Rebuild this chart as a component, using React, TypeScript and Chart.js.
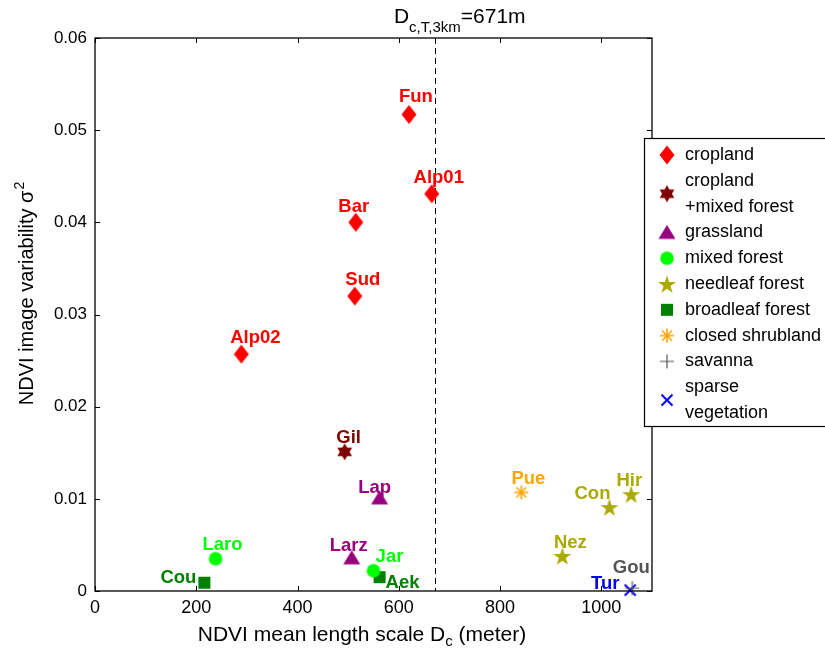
import React, { useEffect, useRef } from 'react';
import { Chart, registerables } from 'chart.js';
Chart.register(...registerables);

// ---- data ----
const xTickValues = [0, 200, 400, 600, 800, 1000];
const yTickValues = [0, 0.01, 0.02, 0.03, 0.04, 0.05, 0.06];
const thresholdDc = 671;

const croplandSites = ['Fun', 'Alp01', 'Bar', 'Sud', 'Alp02'];
const croplandX = [620, 665, 515, 513, 289];
const croplandY = [0.0517, 0.0431, 0.0400, 0.0320, 0.0257];

const cropMixedSites = ['Gil'];
const cropMixedX = [493];
const cropMixedY = [0.0151];

const grasslandSites = ['Lap', 'Larz'];
const grasslandX = [562, 507];
const grasslandY = [0.0101, 0.0036];

const mixedForestSites = ['Jar', 'Laro'];
const mixedForestX = [550, 238];
const mixedForestY = [0.0022, 0.0035];

const needleleafSites = ['Con', 'Hir', 'Nez'];
const needleleafX = [1016, 1059, 923];
const needleleafY = [0.0091, 0.0105, 0.0038];

const broadleafSites = ['Aek', 'Cou'];
const broadleafX = [562, 216];
const broadleafY = [0.0015, 0.0009];

const shrublandSites = ['Pue'];
const shrublandX = [842];
const shrublandY = [0.0107];

const savannaSites = ['Gou'];
const savannaX = [1061];
const savannaY = [0.0003];

const sparseSites = ['Tur'];
const sparseX = [1057];
const sparseY = [0.0001];

const legendLabels = [
  ['cropland'],
  ['cropland', '+mixed forest'],
  ['grassland'],
  ['mixed forest'],
  ['needleaf forest'],
  ['broadleaf forest'],
  ['closed shrubland'],
  ['savanna'],
  ['sparse', 'vegetation'],
];

// ---- styles ----
const classStyles = [
  { kind: 'diamond', color: '#FF0000' },
  { kind: 'hexagram', color: '#800000' },
  { kind: 'triangle', color: '#990080' },
  { kind: 'circle', color: '#00FF00' },
  { kind: 'star', color: '#AAAA00' },
  { kind: 'square', color: '#008000' },
  { kind: 'asterisk', color: '#FFA500' },
  { kind: 'plus', color: '#555555' },
  { kind: 'x', color: '#0000FF' },
];

const labelOffsets: Record<string, [number, number]> = {
  Fun: [7, -18], Alp01: [7, -16], Bar: [-2, -15], Sud: [8, -16], Alp02: [14, -16],
  Gil: [4, -14], Lap: [-5, -10], Larz: [-3, -12], Jar: [16, -14], Aek: [23, 6],
  Laro: [7, -14], Cou: [-26, -5], Pue: [7, -13], Con: [-17, -13], Hir: [-2, -13],
  Nez: [8, -13], Gou: [-1, -20], Tur: [-25, -6],
};
const labelColorOverride: Record<string, string> = { Gou: '#555555' };

const FONT = '"Liberation Sans", Arial, Helvetica, sans-serif';

function makeMarker(kind: string, color: string): HTMLCanvasElement {
  const S = 24;
  const cv = document.createElement('canvas');
  cv.width = S; cv.height = S;
  const g = cv.getContext('2d')!;
  const c = S / 2;
  g.fillStyle = color; g.strokeStyle = color;
  g.beginPath();
  if (kind === 'diamond') {
    g.moveTo(c, c - 9.5); g.lineTo(c + 7.5, c); g.lineTo(c, c + 9.5); g.lineTo(c - 7.5, c); g.closePath(); g.fill();
  } else if (kind === 'hexagram') {
    const R = 8.5;
    for (const start of [-90, 90]) {
      g.beginPath();
      for (let k = 0; k < 3; k++) {
        const a = ((start + k * 120) * Math.PI) / 180;
        const px = c + R * Math.cos(a), py = c + R * Math.sin(a);
        if (k === 0) g.moveTo(px, py); else g.lineTo(px, py);
      }
      g.closePath(); g.fill();
    }
  } else if (kind === 'triangle') {
    g.moveTo(c, c - 7.5); g.lineTo(c + 8.5, c + 6.5); g.lineTo(c - 8.5, c + 6.5); g.closePath(); g.fill();
  } else if (kind === 'circle') {
    g.arc(c, c, 6.8, 0, Math.PI * 2); g.fill();
  } else if (kind === 'star') {
    const R = 9.5, r = R * 0.382;
    for (let k = 0; k < 10; k++) {
      const a = ((-90 + k * 36) * Math.PI) / 180;
      const rr = k % 2 === 0 ? R : r;
      const px = c + rr * Math.cos(a), py = c + 1 + rr * Math.sin(a);
      if (k === 0) g.moveTo(px, py); else g.lineTo(px, py);
    }
    g.closePath(); g.fill();
  } else if (kind === 'square') {
    g.rect(c - 6, c - 6, 12, 12); g.fill();
  } else if (kind === 'asterisk') {
    g.lineWidth = 1.6;
    for (let k = 0; k < 4; k++) {
      const a = (k * 45 * Math.PI) / 180;
      g.moveTo(c - 7 * Math.cos(a), c - 7 * Math.sin(a));
      g.lineTo(c + 7 * Math.cos(a), c + 7 * Math.sin(a));
    }
    g.stroke();
  } else if (kind === 'plus') {
    g.lineWidth = 1.2;
    g.moveTo(c - 7, c); g.lineTo(c + 7, c); g.moveTo(c, c - 7); g.lineTo(c, c + 7); g.stroke();
  } else if (kind === 'x') {
    g.lineWidth = 2;
    g.moveTo(c - 5.5, c - 5.5); g.lineTo(c + 5.5, c + 5.5); g.moveTo(c + 5.5, c - 5.5); g.lineTo(c - 5.5, c + 5.5); g.stroke();
  }
  return cv;
}

export default function App() {
  const ref = useRef<HTMLCanvasElement | null>(null);

  useEffect(() => {
    const canvas = ref.current!;
    const groups = [
      [croplandSites, croplandX, croplandY],
      [cropMixedSites, cropMixedX, cropMixedY],
      [grasslandSites, grasslandX, grasslandY],
      [mixedForestSites, mixedForestX, mixedForestY],
      [needleleafSites, needleleafX, needleleafY],
      [broadleafSites, broadleafX, broadleafY],
      [shrublandSites, shrublandX, shrublandY],
      [savannaSites, savannaX, savannaY],
      [sparseSites, sparseX, sparseY],
    ] as [string[], number[], number[]][];
    const markers = classStyles.map((s) => makeMarker(s.kind, s.color));

    const datasets = groups.map(([sites, xs, ys], i) => ({
      label: legendLabels[i].join(' '),
      data: xs.map((x, j) => ({ x, y: ys[j] })),
      sites,
      pointStyle: markers[i] as any,
      pointRadius: 8,
      pointHoverRadius: 8,
      backgroundColor: classStyles[i].color,
      borderColor: classStyles[i].color,
      showLine: false,
      clip: false as any,
    }));

    const decorations = {
      id: 'decorations',
      beforeDatasetsDraw(chart: any) {
        const { ctx, chartArea } = chart;
        const xs = chart.scales.x;
        const px = Math.round(xs.getPixelForValue(thresholdDc)) + 0.5;
        ctx.save();
        ctx.strokeStyle = '#000';
        ctx.lineWidth = 1;
        ctx.setLineDash([6, 4]);
        ctx.beginPath();
        ctx.moveTo(px, chartArea.top);
        ctx.lineTo(px, chartArea.bottom);
        ctx.stroke();
        ctx.restore();
      },
      afterDatasetsDraw(chart: any) {
        const { ctx } = chart;
        ctx.save();
        ctx.font = `bold 18.5px ${FONT}`;
        ctx.textAlign = 'center';
        ctx.textBaseline = 'middle';
        chart.data.datasets.forEach((ds: any, i: number) => {
          const meta = chart.getDatasetMeta(i);
          meta.data.forEach((el: any, j: number) => {
            const name = ds.sites[j];
            const [dx, dy] = labelOffsets[name] || [0, -14];
            ctx.fillStyle = labelColorOverride[name] || classStyles[i].color;
            ctx.fillText(name, el.x + dx, el.y + dy);
          });
        });
        ctx.restore();
      },
      afterDraw(chart: any) {
        const { ctx, chartArea } = chart;
        const { left, right, top, bottom } = chartArea;
        const xs = chart.scales.x, ys = chart.scales.y;
        ctx.save();
        ctx.strokeStyle = '#000';
        ctx.lineWidth = 1.3;
        ctx.strokeRect(left, top, right - left, bottom - top);
        ctx.lineWidth = 1;
        ctx.beginPath();
        xTickValues.forEach((v) => {
          const p = Math.round(xs.getPixelForValue(v)) + 0.5;
          ctx.moveTo(p, bottom); ctx.lineTo(p, bottom - 5);
          ctx.moveTo(p, top); ctx.lineTo(p, top + 5);
        });
        yTickValues.forEach((v) => {
          const p = Math.round(ys.getPixelForValue(v)) + 0.5;
          ctx.moveTo(left, p); ctx.lineTo(left + 5, p);
          ctx.moveTo(right, p); ctx.lineTo(right - 5, p);
        });
        ctx.stroke();

        // x title
        ctx.fillStyle = '#000';
        ctx.textBaseline = 'alphabetic';
        ctx.textAlign = 'left';
        const xf = `21px ${FONT}`, xsf = `15px ${FONT}`;
        const p1 = 'NDVI mean length scale D', p2 = 'c', p3 = ' (meter)';
        ctx.font = xf; const w1 = ctx.measureText(p1).width; const w3 = ctx.measureText(p3).width;
        ctx.font = xsf; const w2 = ctx.measureText(p2).width;
        const x0 = 362 - (w1 + w2 + w3) / 2;
        const by = 641;
        ctx.font = xf; ctx.fillText(p1, x0, by);
        ctx.font = xsf; ctx.fillText(p2, x0 + w1, by + 5);
        ctx.font = xf; ctx.fillText(p3, x0 + w1 + w2, by);

        // y title
        const tf = `20px ${FONT}`, sf = `14px ${FONT}`;
        ctx.save();
        ctx.translate(33, 294);
        ctx.rotate(-Math.PI / 2);
        const q1 = 'NDVI image variability σ', q2 = '2';
        ctx.font = tf; const v1 = ctx.measureText(q1).width;
        ctx.font = sf; const v2 = ctx.measureText(q2).width;
        const s0 = -(v1 + v2) / 2;
        ctx.font = tf; ctx.fillText(q1, s0, 0);
        ctx.font = sf; ctx.fillText(q2, s0 + v1 + 1, -9);
        ctx.restore();

        // top annotation
        const af = `21px ${FONT}`, asf = `15px ${FONT}`;
        const tpx = xs.getPixelForValue(thresholdDc);
        const a1 = 'D', a2 = 'c,T,3km', a3 = '=671m';
        ctx.font = af; const aw1 = ctx.measureText(a1).width; const aw3 = ctx.measureText(a3).width;
        ctx.font = asf; const aw2 = ctx.measureText(a2).width;
        const ax = tpx + 25 - (aw1 + aw2 + aw3) / 2;
        ctx.font = af; ctx.fillText(a1, ax, 23);
        ctx.font = asf; ctx.fillText(a2, ax + aw1, 32);
        ctx.font = af; ctx.fillText(a3, ax + aw1 + aw2, 23);

        // legend
        const lx = 644, ly = 138, lw = 200, lh = 288;
        ctx.fillStyle = '#fff';
        ctx.fillRect(lx, ly, lw, lh);
        ctx.strokeStyle = '#000';
        ctx.lineWidth = 1.2;
        ctx.strokeRect(lx + 0.5, ly + 0.5, lw, lh);
        ctx.font = `18px ${FONT}`;
        ctx.textBaseline = 'middle';
        ctx.fillStyle = '#000';
        const pitch = 25.8;
        let line = 0;
        legendLabels.forEach((lines, i) => {
          const yStart = 155 + line * pitch;
          const yMid = yStart + ((lines.length - 1) * pitch) / 2;
          const m = markers[i];
          ctx.drawImage(m, 667 - m.width / 2, yMid - m.height / 2);
          lines.forEach((t, k) => ctx.fillText(t, 685, yStart + k * pitch));
          line += lines.length;
        });
        ctx.restore();
      },
    };

    const chart = new Chart(canvas, {
      type: 'scatter',
      data: { datasets: datasets as any },
      options: {
        animation: false,
        responsive: false,
        devicePixelRatio: 1,
        layout: { padding: { top: 38, right: 173, bottom: 0, left: 0 } },
        plugins: { legend: { display: false }, tooltip: { enabled: false } },
        scales: {
          x: {
            type: 'linear',
            min: 0,
            max: 1100,
            grid: { display: false, drawTicks: false },
            border: { display: false },
            ticks: {
              stepSize: 200,
              padding: 6,
              color: '#000',
              font: { size: 18, family: FONT },
              maxRotation: 0,
              callback: (v: any) => String(v),
            },
            afterBuildTicks: (s: any) => { s.ticks = xTickValues.map((v) => ({ value: v })); },
            afterFit: (s: any) => { s.height = 61; },
          },
          y: {
            type: 'linear',
            min: 0,
            max: 0.06,
            grid: { display: false, drawTicks: false },
            border: { display: false },
            ticks: {
              stepSize: 0.01,
              padding: 8,
              color: '#000',
              font: { size: 17, family: FONT },
              callback: (v: any) => (v === 0 ? '0' : Number(v).toFixed(2)),
            },
            afterBuildTicks: (s: any) => { s.ticks = yTickValues.map((v) => ({ value: v })); },
            afterFit: (s: any) => { s.width = 95; },
          },
        },
      },
      plugins: [decorations],
    });
    return () => chart.destroy();
  }, []);

  return (
    <div style={{ position: 'fixed', left: 0, top: 0, width: 825, height: 652, background: '#fff' }}>
      <canvas ref={ref} width={825} height={652} style={{ width: 825, height: 652, display: 'block' }} />
    </div>
  );
}
